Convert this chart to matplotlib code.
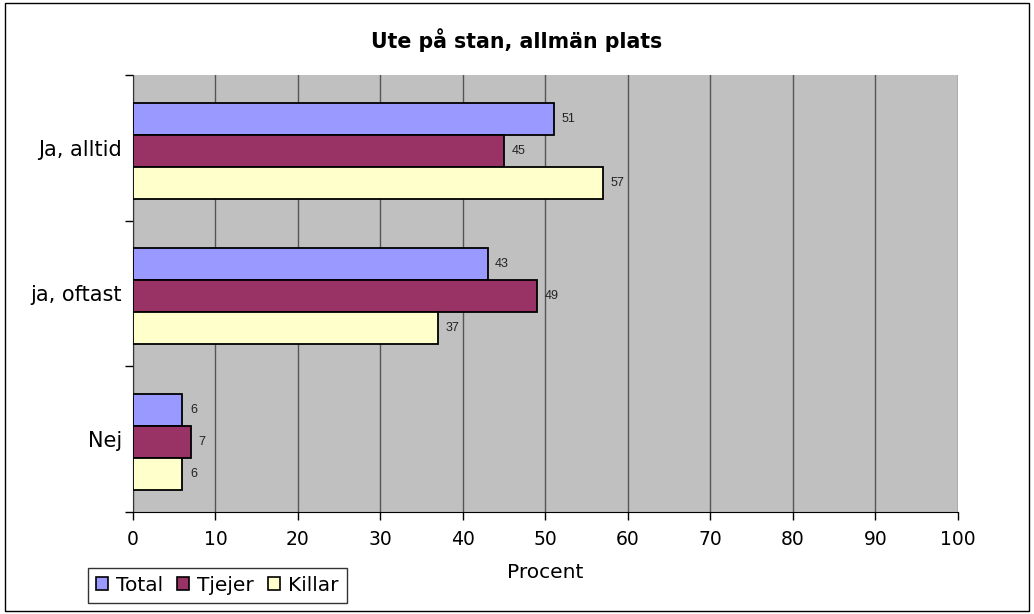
import matplotlib.pyplot as plt
from matplotlib.patches import Rectangle, Patch

categories = ['Ja, alltid', 'ja, oftast', 'Nej']
total = [51, 43, 6]
tjejer = [45, 49, 7]
killar = [57, 37, 6]
series_names = ['Total', 'Tjejer', 'Killar']
colors = ['#9999FF', '#993366', '#FFFFCC']

plt.rcParams['font.family'] = ['DejaVu Sans']

fig = plt.figure(figsize=(10.34, 6.14), dpi=100)
ax = fig.add_axes([0.1286, 0.166, 0.7979, 0.712])
ax.set_facecolor('#C0C0C0')

h = 0.22
ypos = list(range(len(categories)))
for i, (vals, name, col) in enumerate(zip([total, tjejer, killar], series_names, colors)):
    offs = (i - 1) * h + 0.02
    ys = [y + offs for y in ypos]
    ax.barh(ys, vals, height=h, color=col, edgecolor='black', linewidth=1.3, zorder=3)
    for y, v in zip(ys, vals):
        ax.text(v + 0.9, y, str(v), va='center', ha='left', fontsize=9,
                family='Liberation Sans', color='#222222', zorder=4)

ax.set_xlim(0, 100)
ax.set_ylim(2.5, -0.5)
ax.set_xticks(range(0, 101, 10))
ax.xaxis.grid(True, color='#555555', linewidth=1, zorder=1)
ax.tick_params(axis='x', labelsize=13.5, length=6, width=1, direction='out', pad=7)

ax.set_yticks([-0.5, 0.5, 1.5, 2.5])
ax.set_yticklabels([])
ax.set_yticks(ypos, minor=True)
ax.set_yticklabels(categories, minor=True)
ax.tick_params(axis='y', which='major', length=6, width=1)
ax.tick_params(axis='y', which='minor', length=0, labelsize=15, pad=8)

for s in ['top', 'right']:
    ax.spines[s].set_visible(False)
ax.spines['left'].set_color('#333333')
ax.spines['bottom'].set_color('black')

ax.set_xlabel('Procent', fontsize=14.5, labelpad=10)
fig.text(0.5, 0.935, 'Ute på stan, allmän plats', ha='center', va='center',
         fontsize=14.8, fontweight='bold')

handles = [Patch(facecolor=c, edgecolor='black', linewidth=1.2) for c in colors]
leg = fig.legend(handles, series_names, loc='lower left', bbox_to_anchor=(0.085, 0.018),
                 ncol=3, fontsize=14.5, frameon=True, fancybox=False, handlelength=0.6,
                 handleheight=0.6, handletextpad=0.4, columnspacing=0.7,
                 borderpad=0.4, borderaxespad=0)
leg.get_frame().set_edgecolor('black')
leg.get_frame().set_linewidth(1)

fig.patches.append(Rectangle((0.005, 0.005), 0.99, 0.99, transform=fig.transFigure,
                             fill=False, edgecolor='black', linewidth=1))

fig.savefig('out.png', dpi=100)
